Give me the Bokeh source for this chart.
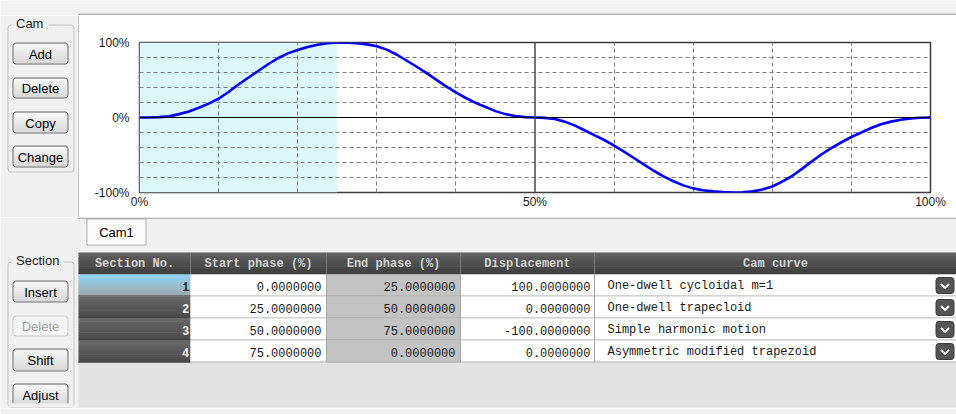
from bokeh.plotting import figure
from bokeh.layouts import column, row
from bokeh.models import Range1d, FixedTicker, Span
from bokeh.core.properties import value
from bokeh.embed import file_html
from bokeh.resources import INLINE

# ---------------- data ----------------
section_no = [1, 2, 3, 4]
start_phase = [0.0, 25.0, 50.0, 75.0]
end_phase = [25.0, 50.0, 75.0, 0.0]
displacement = [100.0, 0.0, -100.0, 0.0]
cam_curve = ["One-dwell cycloidal m=1", "One-dwell trapecloid",
             "Simple harmonic motion", "Asymmetric modified trapezoid"]
selected_section = 1
column_titles = ["Section No.", "Start phase (%)", "End phase (%)", "Displacement", "Cam curve"]
cam_buttons = ["Add", "Delete", "Copy", "Change"]
section_buttons = ["Insert", "Delete", "Shift", "Adjust"]
section_buttons_enabled = [True, False, True, True]
tab_names = ["Cam1"]

# cam displacement curve (phase %, displacement %)
phase = [0, 1.25, 2.5, 3.75, 5, 6.25, 7.5, 8.75, 10, 11.25, 12.5, 13.75, 15, 16.25, 17.5, 18.75, 20,
         21.25, 22.5, 23.75, 25,
         26.25, 27.5, 28.75, 30, 31.25, 32.5, 33.75, 35, 36.25, 37.5, 38.75, 40, 41.25, 42.5, 43.75,
         45, 46.25, 47.5, 48.75, 50,
         51.25, 52.5, 53.75, 55, 56.25, 57.5, 58.75, 60, 61.25, 62.5, 63.75, 65, 66.25, 67.5, 68.75,
         70, 71.25, 72.5, 73.75, 75,
         76.25, 77.5, 78.75, 80, 81.25, 82.5, 83.75, 85, 86.25, 87.5, 88.75, 90, 91.25, 92.5, 93.75,
         95, 96.25, 97.5, 98.75, 100]
disp = [0, 0.1, 0.5, 1.5, 4.5, 8, 13, 18.5, 25, 34, 44, 53, 62, 71, 79, 85.5, 90, 94, 97, 99, 100,
        99.8, 99, 97.5, 95, 90.5, 84, 76, 68, 59.5, 50.5, 41.5, 33.5, 26, 19.5, 14, 8.5, 4.5, 2, 0.5, 0,
        -0.5, -2, -5.5, -10.5, -17, -23.5, -30, -37.5, -45.5, -54, -62.5, -71, -78.5, -85, -90.5,
        -94.5, -97, -98.5, -99.5, -100,
        -99.7, -98.5, -96, -92, -85.5, -78, -68.5, -58.5, -49, -40.5, -33, -26, -20, -14, -9, -5.5,
        -3, -1.2, -0.4, 0]

x_ticks = [0, 50, 100]
x_tick_labels = ["0%", "50%", "100%"]
y_ticks = [-100, 0, 100]
y_tick_labels = ["-100%", "0%", "100%"]
x_grid = [10, 20, 30, 40, 60, 70, 80, 90]
y_grid = [-80, -60, -40, -20, 20, 40, 60, 80]

# ---------------- helpers ----------------
UI = "Liberation Sans"
MONO = "Liberation Mono"
BG = "#f0f0f0"


def hex2rgb(h):
    return tuple(int(h[i:i + 2], 16) for i in (1, 3, 5))


def mix(c0, c1, t):
    a, b = hex2rgb(c0), hex2rgb(c1)
    return "#%02x%02x%02x" % tuple(round(a[i] + (b[i] - a[i]) * t) for i in range(3))


def canvas(x0, x1, y0, y1, bg=BG):
    return figure(width=x1 - x0, height=y1 - y0, x_range=Range1d(x0, x1), y_range=Range1d(y1, y0),
                  toolbar_location=None, output_backend="svg", x_axis_type=None, y_axis_type=None,
                  min_border=0, outline_line_color=None, background_fill_color=bg,
                  border_fill_color=bg)


def box(f, x0, x1, y0, y1, fill=None, line=None, lw=1, r=0):
    kw = dict(left=[x0], right=[x1], top=[y0], bottom=[y1], fill_color=fill, line_color=line,
              line_width=lw)
    if r:
        kw["border_radius"] = r
    f.quad(**kw)


def grad(f, x0, x1, y0, y1, c0, c1, n=6):
    h = (y1 - y0) / n
    f.quad(left=[x0] * n, right=[x1] * n,
           top=[y0 + i * h for i in range(n)],
           bottom=[min(y1, y0 + (i + 1) * h + 0.4) for i in range(n)],
           fill_color=[mix(c0, c1, i / (n - 1)) for i in range(n)], line_color=None)


def label(f, x, y, text, size="13px", color="#000000", align="center", font=UI, style="normal"):
    f.text(x=[x], y=[y], text=[text], text_font=value(font), text_font_size=size,
           text_color=color, text_align=align, text_baseline="middle", text_font_style=style)


def button(f, x0, x1, y0, y1, text, enabled=True):
    box(f, x0, x1, y0, y1, fill="#e2e2e2" if enabled else "#f4f4f4", r=3)
    if enabled:
        grad(f, x0 + 1.5, x1 - 1.5, y0 + 1.5, y1 - 1.5, "#f6f6f6", "#dadada", n=8)
    box(f, x0 + 0.5, x1 - 0.5, y0 + 0.5, y1 - 0.5, line="#707070" if enabled else "#c9c9c9", r=3)
    label(f, (x0 + x1) / 2, (y0 + y1) / 2 + 0.5, text, color="#000000" if enabled else "#a5a5a5")


def group(f, x0, x1, y0, y1, text, gx1):
    box(f, x0 + 0.5, x1 - 0.5, y0 + 0.5, y1 - 0.5, line="#c3c3c3", r=3)
    box(f, x0 + 4, gx1, y0 - 7, y0 + 4, fill=BG)
    label(f, x0 + 8.5, y0 - 1.5, text, align="left", color="#1e1e1e")


# ---------------- top strip ----------------
top = canvas(0, 956, 0, 15, bg="#f2f2f2")
box(top, 78, 956, 13, 15, fill="#b8b8b8")

# ---------------- left panel (Cam group) ----------------
left = canvas(0, 79, 15, 217)
group(left, 7, 74, 24, 172, "Cam", 48)
for name, (b0, b1) in zip(cam_buttons, [(42, 64), (77, 98), (111, 133), (145, 167)]):
    button(left, 12, 68, b0, b1, name)
box(left, 77.8, 79.2, 15, 217, fill="#b4b4b4")

# ---------------- chart ----------------
p = figure(width=877, height=202, x_range=Range1d(0, 100), y_range=Range1d(-100, 100),
           toolbar_location=None, output_backend="svg",
           min_border_left=60, min_border_right=26, min_border_top=27, min_border_bottom=25,
           background_fill_color="white", border_fill_color="white",
           outline_line_color="#3c3c3c", outline_line_width=1.5)

sel = section_no.index(selected_section)
p.quad(left=[start_phase[sel]], right=[end_phase[sel]], bottom=[y_ticks[0]], top=[y_ticks[-1]],
       fill_color="#dcf7f9", line_color=None, level="image")

for ax, ticks, labels, standoff in ((p.xaxis, x_ticks, x_tick_labels, 2),
                                     (p.yaxis, y_ticks, y_tick_labels, 10)):
    ax.ticker = FixedTicker(ticks=ticks)
    ax.major_label_overrides = {t: l for t, l in zip(ticks, labels)}
    ax.axis_line_color = None
    ax.major_tick_line_color = None
    ax.minor_tick_line_color = None
    ax.major_tick_out = 0
    ax.major_tick_in = 0
    ax.major_label_standoff = standoff
    ax.major_label_text_font = UI
    ax.major_label_text_font_size = "12px"
    ax.major_label_text_color = "#1a1a1a"

p.xgrid.ticker = FixedTicker(ticks=x_grid)
p.ygrid.ticker = FixedTicker(ticks=y_grid)
for g in (p.xgrid, p.ygrid):
    g.grid_line_color = "#7f7f7f"
    g.grid_line_dash = "4 3"
    g.grid_line_width = 1

p.add_layout(Span(location=y_ticks[1], dimension="width", line_color="#000000", line_width=1.2))
p.add_layout(Span(location=x_ticks[1], dimension="height", line_color="#4a4a4a", line_width=1.5))

p.line(phase, disp, line_color="#0000ff", line_width=2.6, line_join="round")

# ---------------- bottom panel (tab, Section group, table) ----------------
bot = canvas(0, 956, 217, 414)
box(bot, 78, 956, 217, 218.6, fill="#b4b4b4")
box(bot, 86.5, 145.5, 218.5, 244.5, fill="#fbfbfb", line="#acacac")
label(bot, 116, 232, tab_names[0])

col_edges = [78, 190, 326, 460, 594, 956]
row_edges = [274, 296, 318, 340, 362]

box(bot, 78, 956, 252, 407, fill="#e2e2e2")
box(bot, 0, 956, 407.5, 408.5, fill="#fafafa")

group(bot, 7, 74, 261, 407, "Section", 63)
for name, en, (b0, b1) in zip(section_buttons, section_buttons_enabled,
                              [(280, 302), (315, 336), (348, 371), (383, 406)]):
    button(bot, 12, 68, b0, b1, name, en)
box(bot, 8, 73, 403, 406.5, fill=BG)

grad(bot, 78, 956, 252, 274, "#5f5f5f", "#3f3f3f", n=8)
bot.segment(x0=col_edges[1:-1], y0=[253] * 4, x1=col_edges[1:-1], y1=[274] * 4,
            line_color="#7c7c7c", line_width=1)
for i, t in enumerate(column_titles):
    label(bot, (col_edges[i] + col_edges[i + 1]) / 2, 263.5, t, size="12px", color="#d2d2d2",
          font=MONO, style="bold")

cell_fill = [None, "#ffffff", "#c3c3c3", "#ffffff", "#ffffff"]
for i in range(len(section_no)):
    y0, y1 = row_edges[i], row_edges[i + 1]
    ym = (y0 + y1) / 2 + 0.5
    if section_no[i] == selected_section:
        grad(bot, 78, 190, y0, y1, "#8fd1ef", "#9ea8ad", n=8)
        num_color = "#303030"
    else:
        grad(bot, 78, 190, y0, y1, "#666666", "#4a4a4a", n=8)
        num_color = "#eeeeee"
    for c in range(1, 5):
        box(bot, col_edges[c], col_edges[c + 1], y0, y1, fill=cell_fill[c])
    bot.segment(x0=[78], y0=[y1 - 0.5], x1=[190], y1=[y1 - 0.5], line_color="#3e3e3e", line_width=1)
    bot.segment(x0=[190], y0=[y1 - 0.5], x1=[956], y1=[y1 - 0.5], line_color="#a6a6a6", line_width=1)
    label(bot, 185, ym, str(section_no[i]), size="12px", color=num_color, font=MONO, style="bold")
    label(bot, 321, ym, f"{start_phase[i]:.7f}", size="12px", color="#1a1a1a", font=MONO, align="right")
    label(bot, 455, ym, f"{end_phase[i]:.7f}", size="12px", color="#1a1a1a", font=MONO, align="right")
    label(bot, 590, ym, f"{displacement[i]:.7f}", size="12px", color="#1a1a1a", font=MONO, align="right")
    label(bot, 607, ym, cam_curve[i], size="12px", color="#1a1a1a", font=MONO, align="left")
    # dropdown button
    box(bot, 935.5, 953.5, y0 + 3, y1 - 3, fill="#545454", line="#3c3c3c", r=3)
    bot.line(x=[940.5, 944.5, 948.5], y=[ym - 2, ym + 2, ym - 2], line_color="#ffffff", line_width=2)

bot.segment(x0=col_edges[2:5], y0=[274] * 3, x1=col_edges[2:5], y1=[362] * 3,
            line_color="#a6a6a6", line_width=1)

layout = column(top, row(left, column(p)), bot)
open("out.html", "w").write(file_html(layout, INLINE))
